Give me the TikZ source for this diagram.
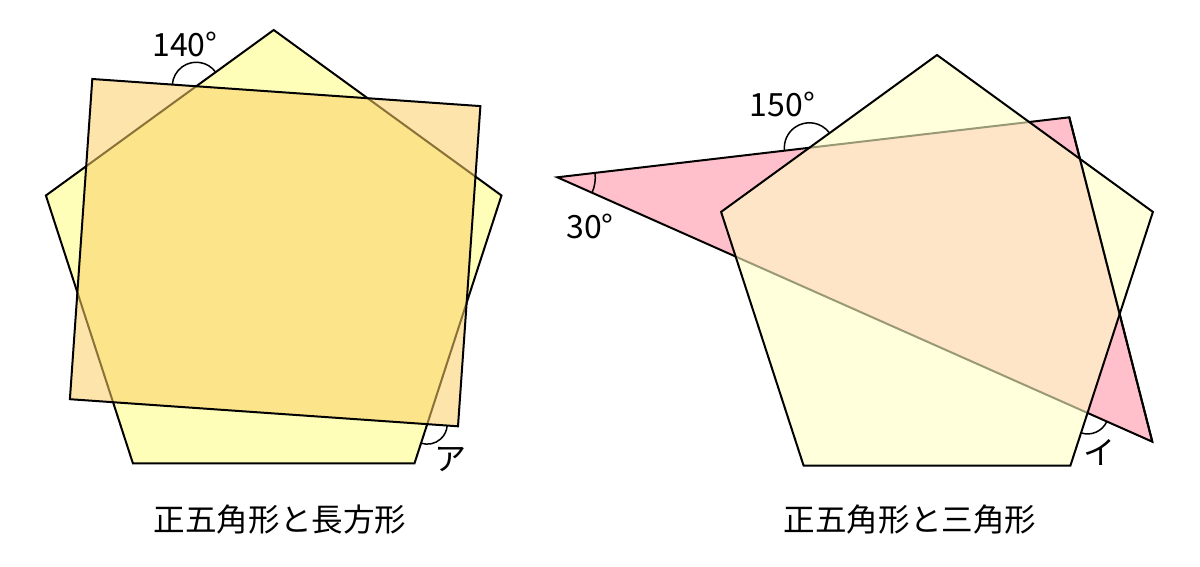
\documentclass[tikz,border=0pt]{standalone}
\usepackage{fontspec}
\setmainfont{Noto Sans CJK JP}
\usetikzlibrary{calc}
\definecolor{penA}{RGB}{255,254,184}
\definecolor{rectC}{RGB}{251,207,102}
\definecolor{penB}{RGB}{255,255,198}
\definecolor{triC}{RGB}{255,192,203}
\begin{document}
\begin{tikzpicture}[x=0.5pt,y=-0.5pt,
  shapeline/.style={draw=black,line width=1pt,line join=miter},
  anglearc/.style={draw=black,line width=0.75pt},
  lbl/.style={inner sep=0pt,font=\fontsize{16}{19}\selectfont},
  caption/.style={inner sep=0pt,font=\fontsize{15.8}{19}\selectfont}]
\useasboundingbox (0,0) rectangle (1200,567);
\fill[white] (0,0) rectangle (1200,567);

% ---------- left: pentagon + rectangle ----------
\coordinate (LP1) at (273.7,30);
\coordinate (LP2) at (501.5,195.5);
\coordinate (LP3) at (414.5,463.3);
\coordinate (LP4) at (132.9,463.3);
\coordinate (LP5) at (45.9,195.5);
\coordinate (R1) at (92.3,79);
\coordinate (R2) at (480.4,106.1);
\coordinate (R3) at (458.0,426.3);
\coordinate (R4) at (69.9,399.2);

\fill[penA] (LP1)--(LP2)--(LP3)--(LP4)--(LP5)--cycle;
\draw[shapeline] (LP1)--(LP2)--(LP3)--(LP4)--(LP5)--cycle;
\fill[rectC,fill opacity=0.55] (R1)--(R2)--(R3)--(R4)--cycle;
\draw[shapeline] (R1)--(R2)--(R3)--(R4)--cycle;

\coordinate (X1) at (intersection of R1--R2 and LP5--LP1);
\coordinate (X2) at (intersection of R4--R3 and LP2--LP3);
\draw[anglearc] ($(X1)+(-36:24)$) arc[start angle=-36,end angle=-176,radius=24];
\draw[anglearc] ($(X2)+(108:20)$) arc[start angle=108,end angle=4,radius=20];

\node[lbl,anchor=base] (a140) at (185,56.5) {140°};
\node[lbl] (aA) at (450,459) {ア};
\node[caption] (capL) at (280,520) {正五角形と長方形};

% ---------- right: triangle + pentagon ----------
\coordinate (TA) at (557.3,177.3);
\coordinate (TB) at (1069.3,117.3);
\coordinate (TC) at (1152.3,441.7);
\coordinate (RP1) at (937,55);
\coordinate (RP2) at (1152.9,211.9);
\coordinate (RP3) at (1070.4,465.6);
\coordinate (RP4) at (803.6,465.6);
\coordinate (RP5) at (721.1,211.9);

\fill[triC] (TA)--(TB)--(TC)--cycle;
\draw[shapeline] (TA)--(TB)--(TC)--cycle;
\fill[penB,fill opacity=0.6] (RP1)--(RP2)--(RP3)--(RP4)--(RP5)--cycle;
\draw[shapeline] (RP1)--(RP2)--(RP3)--(RP4)--(RP5)--cycle;
\draw[shapeline,line cap=round] (TB)--(TC);

\coordinate (X3) at (intersection of TA--TB and RP5--RP1);
\coordinate (X4) at (intersection of TA--TC and RP2--RP3);
\draw[anglearc] ($(X3)+(-36:25)$) arc[start angle=-36,end angle=-186.7,radius=25];
\draw[anglearc] ($(TA)+(23.96:38)$) arc[start angle=23.96,end angle=-6.68,radius=38];
\draw[anglearc] ($(X4)+(108:21)$) arc[start angle=108,end angle=24,radius=21];

\node[lbl,anchor=base] (a150) at (782.5,116.5) {150°};
\node[lbl,anchor=base] (a30) at (590,238.3) {30°};
\node[lbl] (aI) at (1099,452) {イ};
\node[caption] (capR) at (910,520) {正五角形と三角形};
\end{tikzpicture}
\end{document}
